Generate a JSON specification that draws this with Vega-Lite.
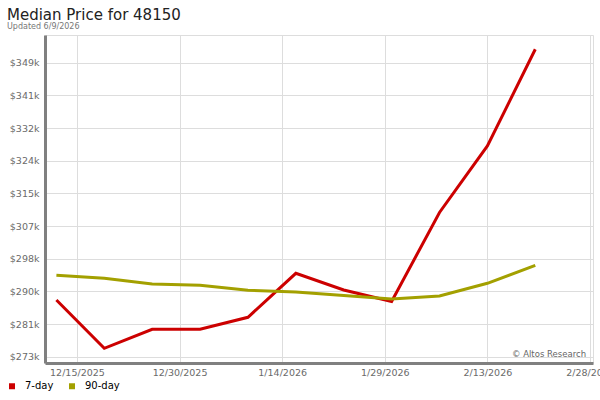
{
  "$schema": "https://vega.github.io/schema/vega-lite/v6.json",
  "width": 548,
  "height": 328,
  "autosize": {"type": "none"},
  "padding": {"left": 45, "top": 35, "right": 7, "bottom": 37},
  "background": "white",
  "title": {
    "text": "Median Price for 48150",
    "subtitle": "Updated 6/9/2026",
    "anchor": "start",
    "frame": "group",
    "dx": -38,
    "offset": 4,
    "font": "DejaVu Sans",
    "fontSize": 15,
    "fontWeight": "normal",
    "color": "#222222",
    "subtitleFont": "DejaVu Sans",
    "subtitleFontSize": 8,
    "subtitleColor": "#777777",
    "subtitlePadding": 0
  },
  "config": {
    "view": {"stroke": "#dddddd", "strokeWidth": 1},
    "axis": {
      "labelFont": "DejaVu Sans",
      "labelFontSize": 9.5,
      "labelColor": "#6a6a6a",
      "gridColor": "#dddddd",
      "gridWidth": 1,
      "domainColor": "#808080",
      "domainWidth": 3,
      "ticks": false,
      "title": null
    }
  },
  "layer": [
    {
      "data": {
        "values": [
          {"date": "2025-12-12T00:00:00", "series": "7-day", "price": 287750},
          {"date": "2025-12-19T00:00:00", "series": "7-day", "price": 275190},
          {"date": "2025-12-26T00:00:00", "series": "7-day", "price": 280130},
          {"date": "2026-01-02T00:00:00", "series": "7-day", "price": 280130},
          {"date": "2026-01-09T00:00:00", "series": "7-day", "price": 283250},
          {"date": "2026-01-16T00:00:00", "series": "7-day", "price": 294700},
          {"date": "2026-01-23T00:00:00", "series": "7-day", "price": 290360},
          {"date": "2026-01-30T00:00:00", "series": "7-day", "price": 287360},
          {"date": "2026-02-06T00:00:00", "series": "7-day", "price": 310520},
          {"date": "2026-02-13T00:00:00", "series": "7-day", "price": 327830},
          {"date": "2026-02-20T00:00:00", "series": "7-day", "price": 352990},
          {"date": "2025-12-12T00:00:00", "series": "90-day", "price": 294180},
          {"date": "2025-12-19T00:00:00", "series": "90-day", "price": 293400},
          {"date": "2025-12-26T00:00:00", "series": "90-day", "price": 291920},
          {"date": "2026-01-02T00:00:00", "series": "90-day", "price": 291580},
          {"date": "2026-01-09T00:00:00", "series": "90-day", "price": 290280},
          {"date": "2026-01-16T00:00:00", "series": "90-day", "price": 289850},
          {"date": "2026-01-23T00:00:00", "series": "90-day", "price": 288930},
          {"date": "2026-01-30T00:00:00", "series": "90-day", "price": 288010},
          {"date": "2026-02-06T00:00:00", "series": "90-day", "price": 288790},
          {"date": "2026-02-13T00:00:00", "series": "90-day", "price": 292100},
          {"date": "2026-02-20T00:00:00", "series": "90-day", "price": 296780}
        ]
      },
      "mark": {"type": "line", "strokeWidth": 3},
      "encoding": {
        "x": {
          "field": "date",
          "type": "temporal",
          "scale": {
            "domain": [
              {"year": 2025, "month": 12, "date": 10, "hours": 8},
              {"year": 2026, "month": 2, "date": 28, "hours": 10, "minutes": 30}
            ]
          },
          "axis": {
            "values": [
              {"year": 2025, "month": 12, "date": 15},
              {"year": 2025, "month": 12, "date": 30},
              {"year": 2026, "month": 1, "date": 14},
              {"year": 2026, "month": 1, "date": 29},
              {"year": 2026, "month": 2, "date": 13},
              {"year": 2026, "month": 2, "date": 28}
            ],
            "tickCount": 20,
            "format": "%-m/%-d/%Y",
            "grid": true,
            "labelPadding": 4,
            "labelOverlap": false,
            "labelFlush": false
          }
        },
        "y": {
          "field": "price",
          "type": "quantitative",
          "scale": {"domain": [271360, 356700], "zero": false, "nice": false},
          "axis": {
            "values": [273000, 281500, 290000, 298500, 307000, 315500, 324000, 332500, 341000, 349500],
            "tickCount": 20,
            "labelExpr": "'$' + floor(datum.value / 1000) + 'k'",
            "grid": true,
            "labelPadding": 6,
            "labelOverlap": false,
            "labelFlush": false
          }
        },
        "color": {
          "field": "series",
          "type": "nominal",
          "scale": {"domain": ["7-day", "90-day"], "range": ["#cc0000", "#a3a000"]},
          "legend": {
            "orient": "none",
            "legendX": -38,
            "legendY": 346,
            "direction": "horizontal",
            "title": null,
            "symbolType": "square",
            "symbolSize": 9,
            "symbolStrokeWidth": 3,
            "labelFont": "DejaVu Sans",
            "labelFontSize": 10,
            "labelColor": "#000000",
            "labelOffset": 8,
            "columnPadding": 10,
            "padding": 0
          }
        }
      }
    },
    {
      "data": {"values": [{"label": "© Altos Research"}]},
      "mark": {"type": "text", "align": "right", "baseline": "alphabetic", "font": "DejaVu Sans", "fontSize": 8.5, "color": "#666666"},
      "encoding": {
        "x": {"datum": {"year": 2026, "month": 2, "date": 27, "hours": 10}, "type": "temporal"},
        "y": {"datum": 272800, "type": "quantitative"},
        "text": {"field": "label"}
      }
    }
  ]
}
